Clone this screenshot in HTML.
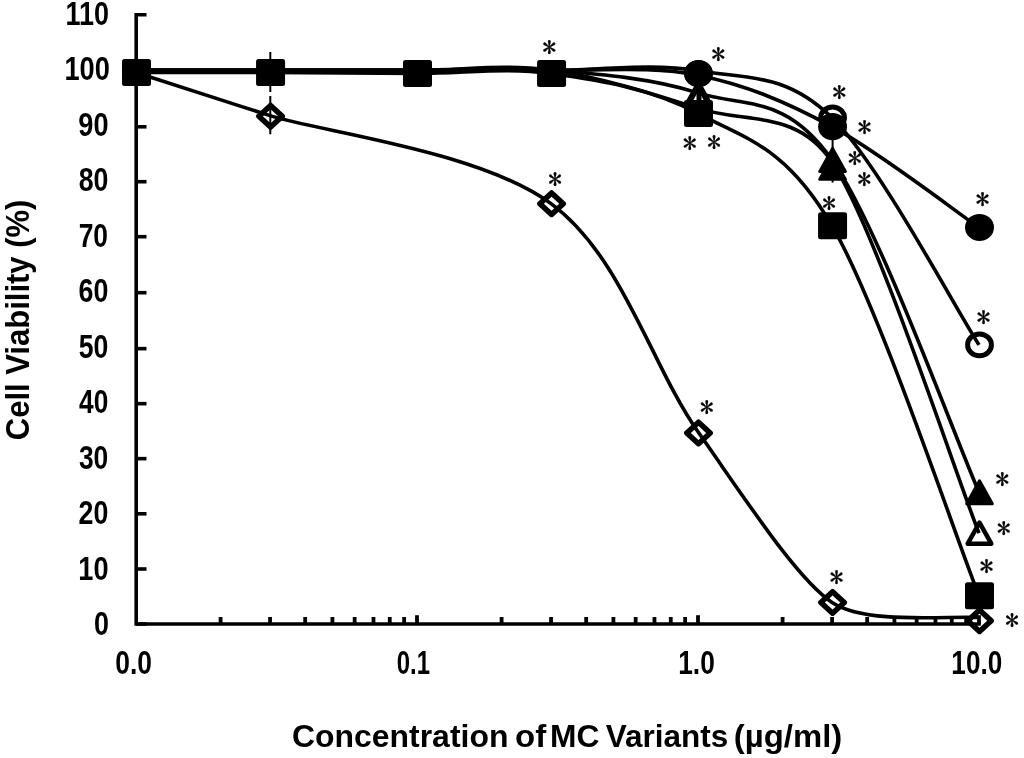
<!DOCTYPE html>
<html><head><meta charset="utf-8"><style>
html,body{margin:0;padding:0;background:#fff;}
svg{display:block;}
.lab{font-family:"Liberation Sans",sans-serif;font-weight:bold;font-size:32.5px;fill:#000;}
.ast{font-family:"IPAGothic","Liberation Serif",serif;font-size:28.2px;fill:#000;stroke:#000;stroke-width:0.3px;}
</style></head><body>
<svg width="1024" height="758" viewBox="0 0 1024 758">
<rect width="1024" height="758" fill="#fff"/>
<path d="M144.7,14.8 H136.2 V624 H979" fill="none" stroke="#000" stroke-width="3.6" stroke-linejoin="miter" stroke-linecap="square"/>
<line x1="136" y1="624.00" x2="146.5" y2="624.00" stroke="#000" stroke-width="3.6"/>
<line x1="136" y1="569.00" x2="146.5" y2="569.00" stroke="#000" stroke-width="3.6"/>
<line x1="136" y1="513.80" x2="146.5" y2="513.80" stroke="#000" stroke-width="3.6"/>
<line x1="136" y1="458.65" x2="146.5" y2="458.65" stroke="#000" stroke-width="3.6"/>
<line x1="136" y1="403.65" x2="146.5" y2="403.65" stroke="#000" stroke-width="3.6"/>
<line x1="136" y1="348.65" x2="146.5" y2="348.65" stroke="#000" stroke-width="3.6"/>
<line x1="136" y1="292.70" x2="146.5" y2="292.70" stroke="#000" stroke-width="3.6"/>
<line x1="136" y1="236.70" x2="146.5" y2="236.70" stroke="#000" stroke-width="3.6"/>
<line x1="136" y1="181.70" x2="146.5" y2="181.70" stroke="#000" stroke-width="3.6"/>
<line x1="136" y1="126.80" x2="146.5" y2="126.80" stroke="#000" stroke-width="3.6"/>
<line x1="136" y1="70.80" x2="146.5" y2="70.80" stroke="#000" stroke-width="3.6"/>
<line x1="220.59" y1="617" x2="220.59" y2="624" stroke="#000" stroke-width="3.8"/>
<line x1="270.07" y1="617" x2="270.07" y2="624" stroke="#000" stroke-width="3.8"/>
<line x1="305.18" y1="617" x2="305.18" y2="624" stroke="#000" stroke-width="3.8"/>
<line x1="332.41" y1="617" x2="332.41" y2="624" stroke="#000" stroke-width="3.8"/>
<line x1="354.66" y1="617" x2="354.66" y2="624" stroke="#000" stroke-width="3.8"/>
<line x1="373.47" y1="617" x2="373.47" y2="624" stroke="#000" stroke-width="3.8"/>
<line x1="389.77" y1="617" x2="389.77" y2="624" stroke="#000" stroke-width="3.8"/>
<line x1="404.14" y1="617" x2="404.14" y2="624" stroke="#000" stroke-width="3.8"/>
<line x1="501.59" y1="617" x2="501.59" y2="624" stroke="#000" stroke-width="3.8"/>
<line x1="551.07" y1="617" x2="551.07" y2="624" stroke="#000" stroke-width="3.8"/>
<line x1="586.18" y1="617" x2="586.18" y2="624" stroke="#000" stroke-width="3.8"/>
<line x1="613.41" y1="617" x2="613.41" y2="624" stroke="#000" stroke-width="3.8"/>
<line x1="635.66" y1="617" x2="635.66" y2="624" stroke="#000" stroke-width="3.8"/>
<line x1="654.47" y1="617" x2="654.47" y2="624" stroke="#000" stroke-width="3.8"/>
<line x1="670.77" y1="617" x2="670.77" y2="624" stroke="#000" stroke-width="3.8"/>
<line x1="685.14" y1="617" x2="685.14" y2="624" stroke="#000" stroke-width="3.8"/>
<line x1="782.59" y1="617" x2="782.59" y2="624" stroke="#000" stroke-width="3.8"/>
<line x1="832.07" y1="617" x2="832.07" y2="624" stroke="#000" stroke-width="3.8"/>
<line x1="867.18" y1="617" x2="867.18" y2="624" stroke="#000" stroke-width="3.8"/>
<line x1="894.41" y1="617" x2="894.41" y2="624" stroke="#000" stroke-width="3.8"/>
<line x1="916.66" y1="617" x2="916.66" y2="624" stroke="#000" stroke-width="3.8"/>
<line x1="935.47" y1="617" x2="935.47" y2="624" stroke="#000" stroke-width="3.8"/>
<line x1="951.77" y1="617" x2="951.77" y2="624" stroke="#000" stroke-width="3.8"/>
<line x1="966.14" y1="617" x2="966.14" y2="624" stroke="#000" stroke-width="3.8"/>
<line x1="417.00" y1="615.2" x2="417.00" y2="624" stroke="#000" stroke-width="3.8"/>
<line x1="698.00" y1="615.2" x2="698.00" y2="624" stroke="#000" stroke-width="3.8"/>
<line x1="979.00" y1="615.2" x2="979.00" y2="624" stroke="#000" stroke-width="3.8"/>
<text class="lab" x="93.92" y="635.28" textLength="14.99" lengthAdjust="spacingAndGlyphs">0</text>
<text class="lab" x="78.30" y="579.80" textLength="30.25" lengthAdjust="spacingAndGlyphs">10</text>
<text class="lab" x="78.56" y="524.32" textLength="29.77" lengthAdjust="spacingAndGlyphs">20</text>
<text class="lab" x="78.91" y="468.84" textLength="29.41" lengthAdjust="spacingAndGlyphs">30</text>
<text class="lab" x="79.11" y="413.36" textLength="29.21" lengthAdjust="spacingAndGlyphs">40</text>
<text class="lab" x="78.70" y="357.88" textLength="29.63" lengthAdjust="spacingAndGlyphs">50</text>
<text class="lab" x="78.49" y="302.40" textLength="29.84" lengthAdjust="spacingAndGlyphs">60</text>
<text class="lab" x="78.63" y="246.92" textLength="29.39" lengthAdjust="spacingAndGlyphs">70</text>
<text class="lab" x="78.63" y="191.44" textLength="29.70" lengthAdjust="spacingAndGlyphs">80</text>
<text class="lab" x="78.35" y="135.96" textLength="30.20" lengthAdjust="spacingAndGlyphs">90</text>
<text class="lab" x="64.40" y="80.48" textLength="45.42" lengthAdjust="spacingAndGlyphs">100</text>
<text class="lab" x="65.51" y="25.00" textLength="43.59" lengthAdjust="spacingAndGlyphs">110</text>
<text class="lab" x="115.24" y="674.2" textLength="36.72" lengthAdjust="spacingAndGlyphs">0.0</text>
<text class="lab" x="396.84" y="674.2" textLength="33.22" lengthAdjust="spacingAndGlyphs">0.1</text>
<text class="lab" x="678.26" y="674.2" textLength="36.55" lengthAdjust="spacingAndGlyphs">1.0</text>
<text class="lab" x="951.37" y="674.2" textLength="50.81" lengthAdjust="spacingAndGlyphs">10.0</text>
<text class="lab" style="font-size:31.6px" x="291.92" y="747.4" textLength="216.51" lengthAdjust="spacingAndGlyphs">Concentration</text>
<text class="lab" style="font-size:31.6px" x="515.08" y="747.4" textLength="31.18" lengthAdjust="spacingAndGlyphs">of</text>
<text class="lab" style="font-size:31.6px" x="550.06" y="747.4" textLength="49.32" lengthAdjust="spacingAndGlyphs">MC</text>
<text class="lab" style="font-size:31.6px" x="605.86" y="747.4" textLength="122.43" lengthAdjust="spacingAndGlyphs">Variants</text>
<text class="lab" style="font-size:31.6px" x="733.86" y="747.4" textLength="108.40" lengthAdjust="spacingAndGlyphs">(µg/ml)</text>
<text class="lab" style="font-size:33.5px" transform="translate(29.0,439.0) rotate(-90)" x="-1.24" y="0" textLength="240.64" lengthAdjust="spacingAndGlyphs">Cell Viability (%)</text>
<line x1="270.3" y1="52" x2="270.3" y2="92" stroke="#000" stroke-width="2"/>
<line x1="270.3" y1="96" x2="270.3" y2="134.3" stroke="#000" stroke-width="2"/>
<line x1="832.6" y1="138" x2="832.6" y2="150" stroke="#000" stroke-width="2"/>
<line x1="832.6" y1="176" x2="832.6" y2="182.6" stroke="#000" stroke-width="2"/>
<path d="M136.00,70.20 C158.35,70.20 223.24,70.20 270.07,70.20 C316.90,70.20 370.17,70.20 417.00,70.20 C463.83,70.20 504.24,63.83 551.07,70.20 C597.90,76.57 651.17,93.09 698.00,108.41 C744.83,123.73 796.95,109.04 832.07,162.13 C876.09,228.68 954.51,471.34 979.00,533.18" fill="none" stroke="#000" stroke-width="3.6" stroke-linejoin="round"/>
<path d="M136.00,70.20 C158.35,70.20 223.24,70.20 270.07,70.20 C316.90,70.20 370.17,70.20 417.00,70.20 C463.83,70.20 504.24,66.42 551.07,70.20 C597.90,73.98 651.17,77.95 698.00,92.91 C744.83,107.86 785.24,93.37 832.07,159.92 C878.90,226.46 954.51,436.82 979.00,492.20" fill="none" stroke="#000" stroke-width="3.6" stroke-linejoin="round"/>
<path d="M136.00,70.20 C158.35,70.20 223.24,70.20 270.07,70.20 C316.90,70.20 370.17,70.20 417.00,70.20 C463.83,70.20 504.24,70.11 551.07,70.20 C597.90,70.29 651.17,62.82 698.00,70.75 C744.83,78.69 785.24,72.14 832.07,117.83 C878.90,163.52 954.51,307.04 979.00,344.88" fill="none" stroke="#000" stroke-width="3.6" stroke-linejoin="round"/>
<path d="M136.00,70.20 C158.35,70.20 223.24,70.20 270.07,70.20 C316.90,70.20 370.17,70.20 417.00,70.20 C463.83,70.20 504.24,69.37 551.07,70.20 C597.90,71.03 651.17,65.77 698.00,75.18 C744.83,84.60 785.24,101.31 832.07,126.69 C878.90,152.07 954.51,210.68 979.00,227.48" fill="none" stroke="#000" stroke-width="3.6" stroke-linejoin="round"/>
<path d="M136.00,72.42 C158.35,79.61 218.19,99.21 270.07,115.61 C321.95,132.02 479.75,150.96 551.07,203.67 C622.39,256.37 651.17,365.38 698.00,431.83 C744.83,498.29 796.95,579.18 832.07,602.40 C867.20,625.63 954.51,615.09 979.00,617.63" fill="none" stroke="#000" stroke-width="3.6" stroke-linejoin="round"/>
<path d="M136.00,72.42 C158.35,72.42 223.24,72.23 270.07,72.42 C316.90,72.60 370.17,73.34 417.00,73.52 C463.83,73.71 504.24,66.88 551.07,73.52 C597.90,80.17 651.17,88.01 698.00,113.40 C744.83,138.78 785.24,145.42 832.07,225.82 C878.90,306.21 954.51,534.10 979.00,595.76" fill="none" stroke="#000" stroke-width="3.6" stroke-linejoin="round"/>
<path d="M136.50,61.67 L148.20,72.42 L136.50,83.17 L124.80,72.42 Z" fill="none" stroke="#000" stroke-width="5.5" stroke-linejoin="round"/>
<path d="M270.57,105.42 L282.27,116.17 L270.57,126.92 L258.87,116.17 Z" fill="none" stroke="#000" stroke-width="5.5" stroke-linejoin="round"/>
<path d="M551.57,192.92 L563.27,203.67 L551.57,214.42 L539.87,203.67 Z" fill="none" stroke="#000" stroke-width="5.5" stroke-linejoin="round"/>
<path d="M698.50,422.19 L710.20,432.94 L698.50,443.69 L686.80,432.94 Z" fill="none" stroke="#000" stroke-width="5.5" stroke-linejoin="round"/>
<path d="M832.57,591.65 L844.27,602.40 L832.57,613.15 L820.87,602.40 Z" fill="none" stroke="#000" stroke-width="5.5" stroke-linejoin="round"/>
<path d="M979.50,609.93 L991.20,620.68 L979.50,631.43 L967.80,620.68 Z" fill="none" stroke="#000" stroke-width="5.5" stroke-linejoin="round"/>
<rect x="123.50" y="60.42" width="26" height="24" rx="1" fill="#000" stroke="#000" stroke-width="3" stroke-linejoin="round"/>
<rect x="257.57" y="60.42" width="26" height="24" rx="1" fill="#000" stroke="#000" stroke-width="3" stroke-linejoin="round"/>
<rect x="404.50" y="61.52" width="26" height="24" rx="1" fill="#000" stroke="#000" stroke-width="3" stroke-linejoin="round"/>
<rect x="538.57" y="61.52" width="26" height="24" rx="1" fill="#000" stroke="#000" stroke-width="3" stroke-linejoin="round"/>
<path d="M698.50,81.41 L711.30,104.41 L685.70,104.41 Z" fill="#000" stroke="#000" stroke-width="3" stroke-linejoin="round"/>
<path d="M698.50,86.28 L710.30,107.28 L686.70,107.28 Z" fill="#fff" stroke="#000" stroke-width="4.5" stroke-linejoin="round"/>
<line x1="699" y1="86" x2="699" y2="101" stroke="#000" stroke-width="5"/>
<ellipse cx="698.50" cy="73.52" rx="11.9" ry="10.85" fill="none" stroke="#000" stroke-width="5"/>
<ellipse cx="698.50" cy="73.52" rx="14.45" ry="13.6" fill="#000"/>
<rect x="685.50" y="101.40" width="26" height="24" rx="1" fill="#000" stroke="#000" stroke-width="3" stroke-linejoin="round"/>
<path d="M832.57,156.17 L845.37,179.17 L819.77,179.17 Z" fill="#000" stroke="#000" stroke-width="3" stroke-linejoin="round"/>
<path d="M832.57,148.42 L845.37,171.42 L819.77,171.42 Z" fill="#000" stroke="#000" stroke-width="3" stroke-linejoin="round"/>
<ellipse cx="832.57" cy="117.83" rx="11.9" ry="10.85" fill="none" stroke="#000" stroke-width="5"/>
<ellipse cx="832.57" cy="126.69" rx="14.45" ry="13.6" fill="#000"/>
<rect x="819.57" y="213.82" width="26" height="24" rx="1" fill="#000" stroke="#000" stroke-width="3" stroke-linejoin="round"/>
<path d="M979.50,522.68 L991.30,543.68 L967.70,543.68 Z" fill="none" stroke="#000" stroke-width="4.5" stroke-linejoin="round"/>
<path d="M979.50,480.70 L992.30,503.70 L966.70,503.70 Z" fill="#000" stroke="#000" stroke-width="3" stroke-linejoin="round"/>
<ellipse cx="979.50" cy="344.88" rx="11.9" ry="10.85" fill="none" stroke="#000" stroke-width="5"/>
<ellipse cx="979.50" cy="227.48" rx="14.45" ry="13.6" fill="#000"/>
<rect x="966.50" y="583.76" width="26" height="24" rx="1" fill="#000" stroke="#000" stroke-width="3" stroke-linejoin="round"/>
<text class="ast" x="549.25" y="57.30" text-anchor="middle">*</text>
<text class="ast" x="718.30" y="63.85" text-anchor="middle">*</text>
<text class="ast" x="689.90" y="152.50" text-anchor="middle">*</text>
<text class="ast" x="714.05" y="151.50" text-anchor="middle">*</text>
<text class="ast" x="839.20" y="101.50" text-anchor="middle">*</text>
<text class="ast" x="864.50" y="136.60" text-anchor="middle">*</text>
<text class="ast" x="854.85" y="168.20" text-anchor="middle">*</text>
<text class="ast" x="864.40" y="189.45" text-anchor="middle">*</text>
<text class="ast" x="828.95" y="213.40" text-anchor="middle">*</text>
<text class="ast" x="982.45" y="209.45" text-anchor="middle">*</text>
<text class="ast" x="983.50" y="326.50" text-anchor="middle">*</text>
<text class="ast" x="1002.35" y="489.05" text-anchor="middle">*</text>
<text class="ast" x="1003.85" y="537.85" text-anchor="middle">*</text>
<text class="ast" x="986.50" y="576.45" text-anchor="middle">*</text>
<text class="ast" x="1011.95" y="630.40" text-anchor="middle">*</text>
<text class="ast" x="555.00" y="188.50" text-anchor="middle">*</text>
<text class="ast" x="706.75" y="417.15" text-anchor="middle">*</text>
<text class="ast" x="836.50" y="586.60" text-anchor="middle">*</text>
</svg></body></html>
